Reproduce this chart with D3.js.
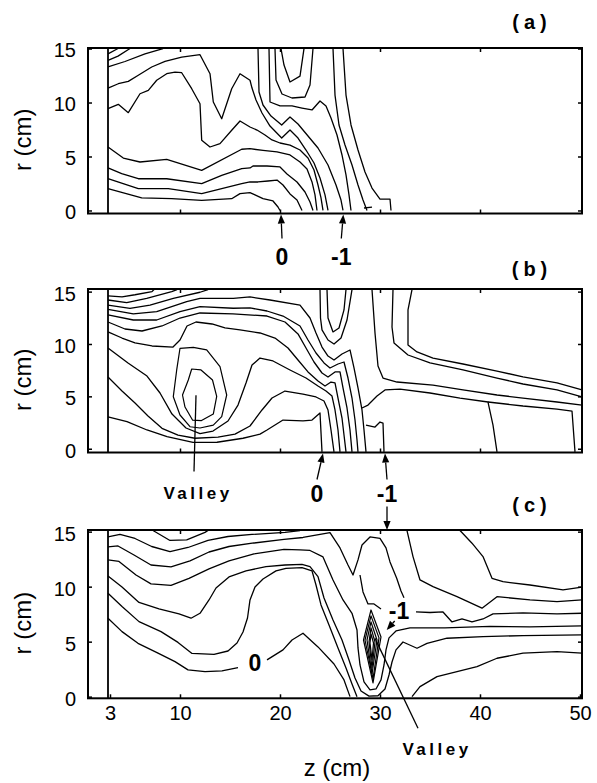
<!DOCTYPE html>
<html>
<head>
<meta charset="utf-8">
<script src="https://cdn.jsdelivr.net/npm/d3@7"></script>
<style>
  body { margin: 0; background: #fff; }
  svg { display: block; font-family: "Liberation Sans", Arial, Helvetica, sans-serif; }
</style>
</head>
<body>
<svg id="chart" width="597" height="783"></svg>
<script>
// axis values (cm)
const zTicks = [3, 10, 20, 30, 40, 50];
const zMinorTicks = [10, 20, 30, 40];
const rTicks = [0, 5, 10, 15];
const wallZ = 2.8;

// contour lines, points are [z, r] in cm
const contoursA = [
  [[2.8,14.5],[3.8,15.0]],
  [[2.8,13.9],[3.8,14.3],[5.0,15.0]],
  [[2.8,13.3],[4.5,13.8],[6.5,14.5],[8.3,15.0]],
  [[2.8,11.34],[3.83,11.74],[4.83,11.96],[5.83,12.52],[7.17,13.29],[8.5,13.81],[10.17,14.21],[12.0,14.43],[13.0,12.67],[13.33,10.05],[14.17,8.5],[15.17,11.28],[16.0,12.67],[17.0,12.06],[17.2,11.34],[17.6,10.23],[18.2,9.03],[19.0,7.82],[20.17,6.71],[21.0,7.45],[21.8,6.71],[22.6,5.6],[23.4,4.4],[24.0,3.01],[24.5,1.44],[24.8,0]],
  [[2.8,9.43],[3.83,9.83],[4.83,9.06],[6.0,10.81],[6.83,11.13],[7.67,12.06],[8.67,12.67],[9.5,12.82],[10.17,12.76],[11.17,11.28],[12.0,9.89],[12.17,6.5],[13.0,5.88],[14.0,6.19],[15.17,7.43],[16.0,8.29],[17.0,7.73],[17.7,7.45],[18.5,6.99],[19.2,6.53],[20.0,6.25],[21.0,6.06],[22.0,5.6],[22.8,4.86],[23.4,3.75],[23.8,2.36],[24.1,1.16],[24.3,0]],
  [[2.8,5.88],[4.33,4.86],[6.0,4.49],[8.67,4.74],[12.17,3.72],[16.17,5.67],[17.0,5.72],[18.3,5.57],[19.7,5.42],[21.0,5.14],[22.0,4.49],[22.7,3.84],[23.2,2.64],[23.5,1.44],[23.7,0]],
  [[2.8,3.94],[4.17,3.41],[5.83,2.94],[8.67,2.94],[12.17,2.48],[14.17,3.26],[16.17,3.87],[17.0,3.94],[17.3,4.12],[18.7,4.12],[20.0,4.03],[20.7,3.38],[21.7,2.64],[22.5,1.71],[23.0,0.79],[23.3,0]],
  [[2.8,2.94],[5.83,2.02],[8.83,2.02],[12.17,1.56],[14.17,2.02],[16.17,2.48],[17.0,2.64],[17.8,2.64],[18.8,2.73],[19.7,2.82],[20.3,2.36],[21.0,1.53],[21.7,0.97],[22.2,0]],
  [[2.8,2.02],[6.17,1.16],[9.17,1.09],[12.17,0.94],[15.17,1.09],[16.0,1.56],[17.0,1.65],[17.5,1.44],[18.3,1.09],[19.3,0.88],[19.8,0.32],[20.0,0]],
  [[17.8,15],[17.9,10.97],[18.3,9.77],[19.1,8.75],[20.17,7.92],[21.0,8.66],[21.8,8.01],[22.8,6.9],[23.8,5.79],[24.8,4.21],[25.6,2.36],[26.1,0.97],[26.3,0]],
  [[18.9,15],[19.0,10.05],[20.0,9.68],[21.2,9.68],[22.2,9.49],[23.2,9.31],[24.0,10.14],[24.6,9.68],[25.1,8.56],[25.7,6.99],[26.2,5.14],[26.6,3.29],[26.9,1.44],[27.1,0]],
  [[19.5,15],[19.6,12.08],[20.2,10.79],[21.2,10.42],[22.5,10.51],[23.0,11.62],[23.3,15]],
  [[20.1,15],[20.4,13.47],[21.0,11.9],[22.0,12.45],[22.4,15]],
  [[25.3,15],[25.5,10.69],[25.9,7.92],[26.5,6.06],[27.2,4.21],[27.8,2.36],[28.3,0.97],[28.7,0]],
  [[26.3,15],[26.6,10.69],[27.1,7.92],[27.8,5.6],[28.5,3.56],[29.2,2.08],[30.0,1.06],[31.0,1.06],[31.1,0]],
  [[28.4,0.23],[29.2,0.32]]
];

const contoursB = [
  [[2.8,14.6],[4.2,14.5],[5.5,14.7],[7.2,15.0],[7.4,15.2]],
  [[2.8,14.2],[4.67,13.94],[6.67,14.36],[9.17,15.0],[9.7,15.2]],
  [[2.8,13.72],[5.0,13.41],[7.0,13.72],[9.33,14.36],[12.0,14.94],[12.8,15.2]],
  [[2.8,13.31],[5.33,12.87],[7.67,13.09],[10.67,14.04],[12.0,14.36],[15.33,14.36],[17.0,14.49],[19.0,14.2],[22.0,13.72],[23.0,12.48],[23.6,11.05],[24.2,9.71],[24.8,8.85],[25.4,8.47],[26.2,9.04],[27.0,9.43],[27.4,7.71],[27.8,5.8],[28.2,3.7],[28.4,1.79],[28.6,-0.3]],
  [[2.8,12.77],[5.33,12.29],[7.67,12.29],[10.0,13.09],[12.0,13.56],[15.33,13.41],[17.0,13.44],[18.7,13.15],[20.3,12.67],[22.0,11.72],[22.8,10.38],[23.6,9.14],[24.4,8.19],[25.0,7.71],[25.8,8.09],[26.4,8.28],[26.8,6.75],[27.2,4.84],[27.5,2.74],[27.7,0.83],[27.8,-0.3]],
  [[2.8,12.1],[4.5,11.43],[6.2,11.24],[8.2,11.72],[10.0,12.48],[12.0,12.96],[15.3,12.87],[18.7,12.67],[20.5,12.1],[21.8,10.96],[22.6,9.62],[23.4,8.28],[24.2,7.23],[24.8,6.85],[25.5,7.33],[26.0,7.33],[26.3,5.8],[26.7,3.89],[27.0,1.79],[27.2,-0.3]],
  [[2.8,11.15],[4.2,10.57],[5.5,10.1],[7.2,9.81],[9.3,9.71],[10.0,10.38],[10.7,11.72],[11.6,12.1],[13.2,11.91],[14.5,11.53],[16.0,11.34],[18.0,11.05],[19.5,10.57],[20.8,9.62],[21.8,8.47],[22.8,7.33],[23.8,6.47],[24.5,5.99],[25.1,6.37],[25.5,6.28],[25.8,4.84],[26.2,2.93],[26.4,1.31],[26.6,-0.3]],
  [[2.8,9.62],[4.8,8.19],[6.7,6.94],[8.0,5.32],[9.2,3.31],[10.6,1.98],[12.0,1.45],[13.3,1.69],[14.8,2.65],[15.8,4.17],[16.6,6.28],[17.2,7.99],[18.0,8.66],[19.3,8.38],[21.0,7.52],[22.6,6.75],[23.8,5.99],[24.6,5.51],[25.2,5.03],[25.5,3.7],[25.8,1.79],[26.0,-0.3]],
  [[2.8,6.85],[4.2,5.51],[5.5,4.36],[6.8,3.12],[8.2,1.95],[9.8,1.3],[11.5,1.0],[13.8,1.1],[15.5,1.4],[17.0,2.17],[18.2,3.7],[19.2,4.84],[20.5,5.51],[22.3,5.22],[23.6,4.94],[24.4,4.56],[24.8,3.7],[25.1,1.79],[25.4,-0.3]],
  [[2.8,3.03],[4.7,2.58],[6.7,1.79],[8.7,1.15],[11.3,0.6],[13.7,0.62],[16.3,1.0],[18.0,1.4],[18.7,1.79],[20.3,2.74],[22.3,2.65],[23.2,2.74],[24.0,3.41],[24.2,-0.3]],
  [[24.0,15.2],[24.05,12.48],[24.2,11.34],[24.8,10.38],[25.4,10.0],[26.1,10.57],[26.7,12.29],[27.2,15.2]],
  [[24.7,15.2],[24.8,12.48],[25.3,11.15],[25.9,11.53],[26.4,13.25],[26.6,15.2]],
  [[29.2,15.2],[29.5,11.05],[29.8,7.9],[30.3,6.75],[31.7,6.37],[35.3,6.08],[38.3,5.61],[41.7,5.13],[44.3,4.84],[47.7,4.46],[50.2,4.17]],
  [[31.3,15.2],[31.2,11.62],[31.4,10.1],[32.8,8.95],[35.0,8.19],[38.3,7.52],[41.7,6.75],[44.3,6.18],[47.7,5.61],[50.2,4.94]],
  [[33.2,15.2],[32.8,13.25],[32.8,9.9],[33.7,9.24],[35.3,8.66],[38.3,8.09],[41.7,7.42],[44.3,6.85],[47.7,6.28],[50.2,5.61]],
  [[28.2,3.89],[28.8,4.17],[29.7,5.03],[30.5,5.61],[32.0,5.7],[35.0,5.32],[38.0,4.84],[40.8,4.46],[41.3,2.26],[41.7,-0.3]],
  [[40.8,4.46],[44.3,4.08],[47.7,3.79],[49.2,3.6],[49.5,-0.3]],
  [[28.6,2.26],[29.5,2.07],[30.0,2.55],[30.3,2.45],[30.4,-0.3]]
];

// closed contours round the valley of (b)
const loopsB = [
  [[10.0,9.59],[11.33,9.68],[12.67,9.43],[14.0,7.83],[14.67,5.13],[14.17,3.06],[13.33,2.26],[12.0,1.98],[11.0,2.1],[10.0,3.22],[9.33,4.97],[9.67,7.52]],
  [[11.17,7.61],[12.1,7.52],[13.25,6.56],[13.67,4.99],[13.33,3.31],[12.15,2.69],[11.25,2.74],[10.5,3.98],[10.25,5.13],[10.83,6.56]]
];

const contoursC = [
  [[7.3,15.1],[9.0,14.2],[10.67,14.25],[12.5,14.93],[12.8,15.1]],
  [[2.8,14.52],[4.0,14.76],[5.5,14.38],[7.17,13.65],[9.0,13.18],[10.8,13.56],[12.8,14.2],[14.8,14.56],[17.2,14.75],[20.5,14.93],[22.0,15.1]],
  [[2.8,13.61],[3.8,13.7],[5.4,12.88],[7.1,11.97],[9.1,11.79],[11.0,12.34],[12.9,13.15],[14.9,13.65],[17.4,13.97],[20.4,14.29],[22.3,14.47],[25.0,14.91],[26.0,13.52],[26.8,11.97],[27.3,11.06],[27.8,12.43],[28.2,13.79],[29.0,14.52],[30.0,14.38],[30.6,13.52],[31.0,12.25],[31.67,10.76],[32.1,9.6],[32.4,9.0]],
  [[28.0,11.06],[28.3,9.52],[28.8,8.43],[29.4,8.43],[30.1,7.97]],
  [[33.6,7.7],[35.0,7.65],[36.3,7.7],[37.2,6.79],[38.2,7.06],[39.2,6.79],[40.3,7.06],[41.3,7.52],[44.3,7.61],[47.7,7.52],[50.2,7.58]],
  [[2.8,12.43],[3.9,12.29],[5.6,11.06],[7.1,10.25],[9.1,10.11],[10.9,10.76],[12.9,11.61],[14.9,12.34],[17.4,12.97],[20.4,13.38],[22.0,13.34],[23.0,13.29],[24.3,12.7],[25.3,10.61],[26.3,8.79],[27.2,7.58],[27.7,6.06],[27.8,4.43],[28.0,2.88],[28.4,1.34],[29.0,0.61],[29.6,0.7],[30.1,1.52],[30.4,2.88],[30.6,4.25],[30.9,5.34],[31.6,5.97],[33.0,6.25],[36.5,6.25],[41.0,6.38],[45.0,6.34],[50.2,6.43]],
  [[2.8,10.97],[4.2,9.97],[5.9,8.56],[7.9,7.97],[9.9,7.52],[11.1,7.13],[12.0,7.58],[12.9,8.79],[13.6,9.88],[14.9,10.88],[16.6,11.43],[18.6,11.82],[20.5,11.97],[22.2,12.02],[23.0,11.82],[23.8,10.91],[24.4,8.97],[25.3,6.97],[26.2,5.15],[26.9,3.34],[27.5,1.7],[28.1,0.52],[28.9,0.05],[29.8,0.08],[30.5,0.7],[30.9,1.97],[31.2,3.15],[31.6,4.25],[32.3,4.97],[33.7,4.4],[34.7,4.85],[36.7,5.31],[40.3,5.45],[44.3,5.55],[50.2,5.61]],
  [[2.8,9.4],[4.2,8.2],[5.9,6.82],[8.1,5.91],[9.8,4.93],[11.2,3.93],[13.4,3.84],[14.8,4.15],[15.7,4.88],[16.3,5.88],[16.75,7.15],[17.0,8.79],[17.5,9.97],[18.3,10.7],[19.6,11.43],[20.6,11.67],[22.2,11.73],[23.2,11.43],[23.6,10.15],[24.1,8.34],[24.9,6.52],[25.8,4.43],[26.6,2.61],[27.2,1.15],[27.7,0]],
  [[2.8,7.13],[4.2,5.91],[5.8,4.85],[7.8,3.95],[9.5,3.18],[10.8,2.43],[12.5,2.27],[14.2,2.34],[15.8,2.64]],
  [[18.7,3.34],[20.3,4.25],[21.2,5.15],[22.3,5.76],[23.8,4.52],[25.4,2.97],[26.4,1.52],[27.0,0]],
  [[33.2,0],[34.0,0.91],[35.7,1.82],[37.7,2.27],[39.7,2.73],[41.7,3.49],[44.3,3.95],[47.7,4.09],[50.2,3.95]],
  [[38.0,15.1],[39.2,13.95],[40.3,12.73],[41.2,10.76],[42.3,10.45],[45.0,10.15],[48.3,9.7],[50.2,9.95]],
  [[32.7,15.1],[33.3,12.73],[34.0,10.61],[35.3,10.0],[37.7,9.09],[40.2,8.04],[41.7,9.09],[45.0,8.79],[47.7,8.64],[50.2,8.79]]
];

// tight closed contours of the valley in (c)
const loopsC = [
  [[29.1,5.7],[29.35,4.88],[29.2,3.34],[29.0,4.88]],
  [[29.1,6.25],[29.5,4.97],[29.2,2.61],[28.9,4.97]],
  [[29.1,6.79],[29.7,5.15],[29.2,2.06],[28.7,5.15]],
  [[29.1,7.34],[29.9,5.34],[29.3,1.61],[28.5,5.15]],
  [[29.1,7.88],[30.1,5.43],[29.3,1.25],[28.35,5.15]]
];

// marked contour levels and valley positions
const arrowsA = [{ text: "0", z: 20.1 }, { text: "-1", z: 26.33 }];
const arrowsB = [{ text: "0", z: 24.3 }, { text: "-1", z: 30.5 }];
const valleyB = { z: 11.6, r: 5.1 };
const valleyC = { z: 29.5, r: 5.3 };
const labelsC = [{ text: "0", z: 17.5, r: 3.06 }, { text: "-1", z: 31.9, r: 7.8 }];
const pointerC = { z: 30.67, r: 6.06 };

const svg = d3.select("#chart");
const x = d3.scaleLinear().domain([0.8, 50.2]).range([88, 582]);

const panels = [
  { key: "a", top: 48, bottom: 213.5, r: [-0.28, 15.05], lines: contoursA, loops: [], letterY: 29 },
  { key: "b", top: 289, bottom: 452.5, r: [-0.36, 15.25], lines: contoursB, loops: loopsB, letterY: 276 },
  { key: "c", top: 530, bottom: 698.3, r: [-0.15, 15.15], lines: contoursC, loops: loopsC, letterY: 512 }
];

function arrow(g, x1, y1, x2, y2) {
  var a = Math.atan2(y2 - y1, x2 - x1), L = 9, w = 3.6;
  var bx = x2 - L * Math.cos(a), by = y2 - L * Math.sin(a);
  g.append("line")
    .attr("x1", x1).attr("y1", y1).attr("x2", bx).attr("y2", by)
    .attr("stroke", "#000").attr("stroke-width", 1.3);
  g.append("path")
    .attr("d", "M" + x2 + "," + y2 +
      "L" + (bx - w * Math.sin(a)) + "," + (by + w * Math.cos(a)) +
      "L" + (bx + w * Math.sin(a)) + "," + (by - w * Math.cos(a)) + "Z")
    .attr("fill", "#000");
}

panels.forEach(function (p, i) {
  var y = d3.scaleLinear().domain(p.r).range([p.bottom, p.top]);
  p.y = y;
  var g = svg.append("g");
  var line = d3.line().x(d => x(d[0])).y(d => y(d[1]));
  var loop = d3.line().x(d => x(d[0])).y(d => y(d[1])).curve(d3.curveLinearClosed);

  // contours
  g.append("g").selectAll("path")
    .data(p.lines).enter().append("path")
    .attr("d", line)
    .attr("fill", "none").attr("stroke", "#000")
    .attr("stroke-width", 1.3).attr("stroke-linejoin", "round");
  g.append("g").selectAll("path")
    .data(p.loops).enter().append("path")
    .attr("d", loop)
    .attr("fill", "none").attr("stroke", "#000")
    .attr("stroke-width", 1.2).attr("stroke-linejoin", "round");

  // wall
  g.append("line")
    .attr("x1", x(wallZ)).attr("x2", x(wallZ))
    .attr("y1", p.bottom).attr("y2", p.top)
    .attr("stroke", "#000").attr("stroke-width", 1.8);

  // axes, ticks point inward
  var left = g.append("g").attr("transform", "translate(" + x.range()[0] + ",0)")
    .call(d3.axisLeft(y).tickValues(rTicks).tickSizeInner(-4).tickSizeOuter(0).tickPadding(12));
  var right = g.append("g").attr("transform", "translate(" + x.range()[1] + ",0)")
    .call(d3.axisRight(y).tickValues(rTicks).tickSizeInner(-4).tickSizeOuter(0).tickFormat(""));
  var top = g.append("g").attr("transform", "translate(0," + p.top + ")")
    .call(d3.axisTop(x).tickValues(zMinorTicks).tickSizeInner(-4).tickSizeOuter(0).tickFormat(""));
  var bottomAxis = i === 2
    ? d3.axisBottom(x).tickValues(zTicks).tickSizeInner(-4).tickSizeOuter(0).tickPadding(8)
    : d3.axisBottom(x).tickValues(zMinorTicks).tickSizeInner(-4).tickSizeOuter(0).tickFormat("");
  var bottom = g.append("g").attr("transform", "translate(0," + p.bottom + ")").call(bottomAxis);

  [left, right, top, bottom].forEach(function (ax) {
    ax.select(".domain").remove();
    ax.selectAll(".tick line").attr("stroke", "#000").attr("stroke-width", 1.5);
    ax.selectAll("text").attr("font-size", 20).attr("fill", "#000")
      .attr("font-family", "'Liberation Sans', Arial, sans-serif");
  });
  left.selectAll("text").attr("dy", "0.42em");

  // frame
  g.append("rect")
    .attr("x", x.range()[0]).attr("y", p.top)
    .attr("width", x.range()[1] - x.range()[0]).attr("height", p.bottom - p.top)
    .attr("fill", "none").attr("stroke", "#000").attr("stroke-width", 2);

  // r label
  var cy = (p.top + p.bottom) / 2 + 9;
  g.append("text")
    .attr("transform", "translate(22," + cy + ") rotate(-90)")
    .attr("text-anchor", "middle").attr("dominant-baseline", "central")
    .attr("font-size", 24).text("r (cm)");

  // panel letter
  g.append("text")
    .attr("x", 532).attr("y", p.letterY)
    .attr("text-anchor", "middle").attr("font-weight", "bold")
    .attr("font-size", 20).attr("letter-spacing", 5)
    .text("(" + p.key + ")");
});

var ya = panels[0].y, yb = panels[1].y, yc = panels[2].y;
var ann = svg.append("g").attr("font-weight", "bold").attr("fill", "#000");

// (a) level markers
var shiftA = [1, -2];
arrowsA.forEach(function (d, k) {
  var tx = x(d.z), lx = tx + shiftA[k];
  arrow(ann, lx, panels[0].bottom + 25, tx, panels[0].bottom + 1);
  ann.append("text").attr("x", lx).attr("y", panels[0].bottom + 51)
    .attr("text-anchor", "middle").attr("font-size", 23).text(d.text);
});

// (b) level markers
var shiftB = [-6, 2];
arrowsB.forEach(function (d, k) {
  var tx = x(d.z), lx = tx + shiftB[k];
  arrow(ann, lx, panels[1].bottom + 27, tx, panels[1].bottom + 1);
  ann.append("text").attr("x", lx).attr("y", panels[1].bottom + 49.5)
    .attr("text-anchor", "middle").attr("font-size", 23).text(d.text);
  if (d.text === "-1") arrow(ann, lx, panels[1].bottom + 54, lx, panels[2].top);
});

// valley of (b)
ann.append("line")
  .attr("x1", x(valleyB.z)).attr("y1", yb(valleyB.r))
  .attr("x2", x(valleyB.z) - 2).attr("y2", panels[1].bottom + 19)
  .attr("stroke", "#000").attr("stroke-width", 1.3);
ann.append("text").attr("x", x(valleyB.z) + 2).attr("y", panels[1].bottom + 46)
  .attr("text-anchor", "middle").attr("font-size", 17).attr("letter-spacing", 3.5)
  .text("Valley");

// (c) contour labels
labelsC.forEach(function (d) {
  ann.append("text").attr("x", x(d.z)).attr("y", yc(d.r))
    .attr("text-anchor", "middle").attr("dominant-baseline", "central")
    .attr("font-size", 23).text(d.text);
});
arrow(ann, x(pointerC.z) + 8, yc(pointerC.r) - 9, x(pointerC.z), yc(pointerC.r));

// valley of (c)
ann.append("line")
  .attr("x1", x(valleyC.z)).attr("y1", yc(valleyC.r))
  .attr("x2", x(valleyC.z) + 43).attr("y2", panels[2].bottom + 30)
  .attr("stroke", "#000").attr("stroke-width", 1.3);
ann.append("text").attr("x", x(valleyC.z) + 62).attr("y", panels[2].bottom + 57)
  .attr("text-anchor", "middle").attr("font-size", 17).attr("letter-spacing", 3.5)
  .text("Valley");

// z label
svg.append("text").attr("x", 337).attr("y", 776)
  .attr("text-anchor", "middle").attr("font-size", 24).text("z (cm)");
</script>
</body>
</html>
